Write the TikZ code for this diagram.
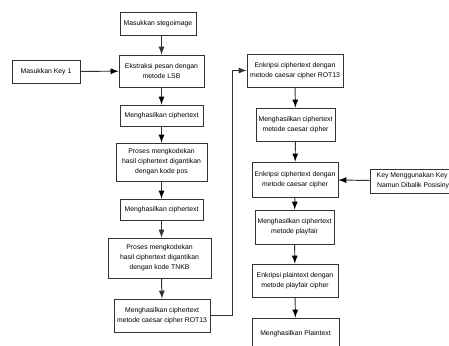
\documentclass[tikz,border=0pt]{standalone}
\usepackage{fontspec}
\setmainfont{Liberation Sans}
\usepackage{tikz}

\begin{document}
\begin{tikzpicture}[x=0.02cm, y=-0.02cm, >=latex,
    every node/.style={rectangle, draw=black!80, line width=0.55pt, inner sep=0pt, align=center, fill=white, font=\fontsize{3.9}{5.8}\selectfont},
    arrow/.style={->, draw=black!80, line width=0.55pt}]
			\useasboundingbox (0,0) rectangle (449,345);

			\node[minimum width=1.52cm, minimum height=0.46cm] (stego) at (158,23.5){Masukkan stegoimage};
			\node[minimum width=1.70cm, minimum height=0.64cm] (lsb) at (161.5,71){Ekstraksi pesan dengan\\metode LSB};
			\node[minimum width=1.36cm, minimum height=0.46cm] (key1) at (46,71.5){Masukkan Key 1};
			\node[minimum width=1.66cm, minimum height=0.42cm] (ct1) at (161.5,115.5){Menghasilkan ciphertext};
			\node[minimum width=1.82cm, minimum height=0.76cm] (pos) at (161.5,162){Proses mengkodekan\\hasil ciphertext digantikan\\dengan kode pos};
			\node[minimum width=1.66cm, minimum height=0.42cm] (ct2) at (161.5,209.5){Menghasilkan ciphertext};
			\node[minimum width=2.06cm, minimum height=0.80cm] (tnkb) at (159.5,258){Proses mengkodekan\\hasil ciphertext digantikan\\dengan kode TNKB};
			\node[minimum width=1.92cm, minimum height=0.66cm] (rotA) at (162,315.5){Menghasilkan ciphertext\\metode caesar cipher ROT13};

			\node[minimum width=1.92cm, minimum height=0.66cm] (rotB) at (295,70.5){Enkripsi ciphertext dengan\\metode caesar cipher ROT13};
			\node[minimum width=1.58cm, minimum height=0.66cm] (cc1) at (295.5,124.5){Menghasilkan ciphertext\\metode caesar cipher};
			\node[minimum width=1.72cm, minimum height=0.70cm] (cc2) at (295,179.5){Enkripsi ciphertext dengan\\metode caesar cipher};
			\node[minimum width=1.80cm, minimum height=0.48cm] (key2) at (415,181){Key Menggunakan Key 1\\Namun Dibalik Posisinya};
			\node[minimum width=1.58cm, minimum height=0.68cm] (pf1) at (294.5,227){Menghasilkan ciphertext\\metode playfair};
			\node[minimum width=1.72cm, minimum height=0.66cm] (pf2) at (295,280.5){Enkripsi plaintext dengan\\metode playfair cipher};
			\node[minimum width=1.74cm, minimum height=0.64cm] (plain) at (295.5,334){Menghasilkan Plaintext};

			\coordinate (turn) at (232,0);

			\draw[arrow] (lsb.north |- stego.south) -- (lsb.north);
			\path[arrow] (key1) edge (lsb);
			\path[arrow] (lsb) edge (ct1);
			\path[arrow] (ct1) edge (pos);
			\path[arrow] (pos) edge (ct2);
			\draw[arrow] (ct2.south) -- (ct2.south |- tnkb.north);
			\draw[arrow] (ct2.south |- tnkb.south) -- (rotA.north);
			\draw[arrow] (rotA.east) -- (rotA.east -| turn) |- (rotB.west);
			\path[arrow] (rotB) edge (cc1);
			\path[arrow] (cc1) edge (cc2);
			\path[arrow] (key2) edge (cc2);
			\path[arrow] (cc2) edge (pf1);
			\path[arrow] (pf1) edge (pf2);
			\path[arrow] (pf2) edge (plain);
\end{tikzpicture}
\end{document}
